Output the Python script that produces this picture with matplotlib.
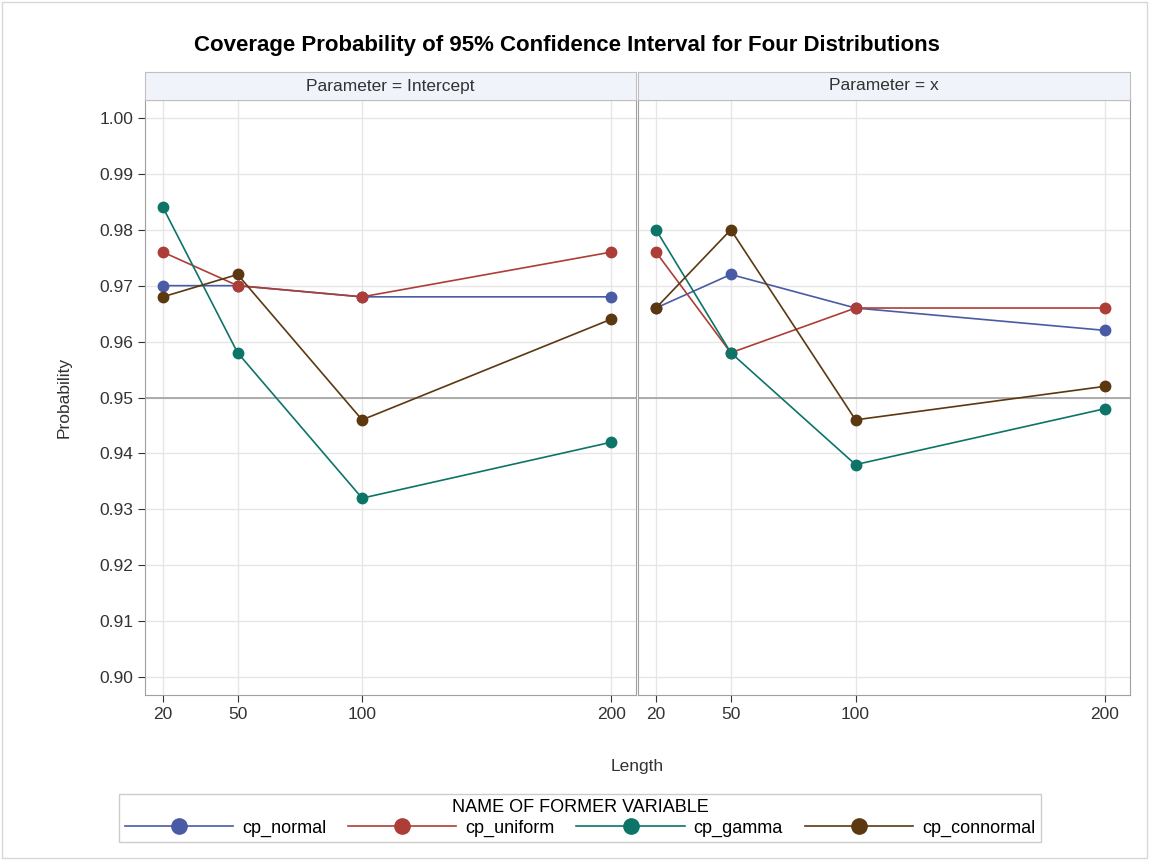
import matplotlib
matplotlib.use("Agg")
import matplotlib.pyplot as plt
from matplotlib.lines import Line2D

lengths = [20, 50, 100, 200]
panels = ["Intercept", "x"]
series = ["cp_normal", "cp_uniform", "cp_gamma", "cp_connormal"]
colors = ["#4a5ba6", "#ad3e37", "#0d7468", "#5b3810"]
values = {
    "Intercept": {
        "cp_normal": [0.970, 0.970, 0.968, 0.968],
        "cp_uniform": [0.976, 0.970, 0.968, 0.976],
        "cp_gamma": [0.984, 0.958, 0.932, 0.942],
        "cp_connormal": [0.968, 0.972, 0.946, 0.964],
    },
    "x": {
        "cp_normal": [0.966, 0.972, 0.966, 0.962],
        "cp_uniform": [0.976, 0.958, 0.966, 0.966],
        "cp_gamma": [0.980, 0.958, 0.938, 0.948],
        "cp_connormal": [0.966, 0.980, 0.946, 0.952],
    },
}
yticks = [0.90, 0.91, 0.92, 0.93, 0.94, 0.95, 0.96, 0.97, 0.98, 0.99, 1.00]

W, H = 1149, 860
fig = plt.figure(figsize=(W / 100, H / 100), dpi=100)
plt.rcParams["font.family"] = ["Liberation Sans", "DejaVu Sans"]

# faint outer border
fig.patches.append(plt.Rectangle((0.002, 0.002), 0.996, 0.996, transform=fig.transFigure,
                                 fill=False, edgecolor="#d8d8d8", lw=1))

boxes = [(145, 636), (638, 1130)]
top, bot = 100, 695
for i, (p, (x0, x1)) in enumerate(zip(panels, boxes)):
    ax = fig.add_axes([x0 / W, 1 - bot / H, (x1 - x0) / W, (bot - top) / H])
    ax.set_xlim(12.8, 210)
    ax.set_ylim(0.8968, 1.0032)
    for y in yticks:
        ax.axhline(y, color="#e6e6e6", lw=1, zorder=0)
    for x in lengths:
        ax.axvline(x, color="#e6e6e6", lw=1, zorder=0)
    ax.axhline(0.95, color="#a0a0a0", lw=1.2, zorder=1)
    for s, c in zip(series, colors):
        ax.plot(lengths, values[p][s], color=c, lw=1.2, marker="o", ms=7.5, zorder=3)
    ax.set_xticks(lengths)
    ax.set_yticks(yticks)
    ax.tick_params(labelsize=12.5, colors="#333333", length=5)
    if i == 0:
        ax.set_yticklabels([f"{y:.2f}" for y in yticks])
        ax.set_ylabel("Probability", fontsize=12.5, color="#333333", labelpad=20)
    else:
        ax.tick_params(axis="y", left=False, labelleft=False)
    for sp in ax.spines.values():
        sp.set_color("#a0a0a0")
    hx = fig.add_axes([x0 / W, 1 - top / H, (x1 - x0) / W, 28 / H])
    hx.set_facecolor("#f1f3fa")
    hx.set_xticks([]); hx.set_yticks([])
    for sp in hx.spines.values():
        sp.set_color("#c0c0c0")
    hx.text(0.5, 0.5, f"Parameter = {p}", ha="center", va="center", fontsize=12.5, color="#333333")

fig.text(567 / W, 1 - 45 / H, "Coverage Probability of 95% Confidence Interval for Four Distributions",
         ha="center", va="center", fontsize=16, fontweight="bold")
fig.text(637 / W, 1 - 767 / H, "Length", ha="center", va="center", fontsize=12.5, color="#333333")

handles = [Line2D([0], [0], color=c, lw=1.2, marker="o", ms=11) for c in colors]
leg = fig.legend(handles, series, loc="center", bbox_to_anchor=(580 / W, 1 - 818 / H),
                 ncol=4, title="NAME OF FORMER VARIABLE", fontsize=13, title_fontsize=13,
                 frameon=True, fancybox=False, handlelength=6, columnspacing=1.2,
                 borderpad=0.3, handletextpad=0.5, labelspacing=0.2)
leg.get_frame().set_edgecolor("#c0c0c0")
fig.savefig("out.png", dpi=100)
